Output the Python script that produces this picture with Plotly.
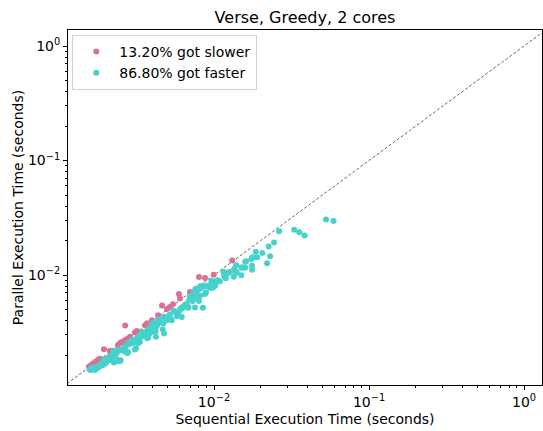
import plotly.graph_objects as go

# Sequential vs parallel run times (seconds) for each benchmark run
slower_seq = [0.00160, 0.00165, 0.00171, 0.00176, 0.00180, 0.00184, 0.00195, 0.00240,
              0.00248, 0.00255, 0.00267, 0.00275, 0.00267, 0.00287, 0.00309, 0.00318,
              0.00359, 0.00370, 0.00462, 0.00497, 0.00520, 0.00543, 0.00594, 0.00603,
              0.00800, 0.00875, 0.01310, 0.00156, 0.00213, 0.00398, 0.00435, 0.00700,
              0.00995]
slower_par = [0.00162, 0.00168, 0.00174, 0.00178, 0.00183, 0.00186, 0.00225, 0.00245,
              0.00255, 0.00260, 0.00271, 0.00277, 0.00362, 0.00290, 0.00315, 0.00325,
              0.00365, 0.00380, 0.00542, 0.00505, 0.00526, 0.00555, 0.00683, 0.00625,
              0.00960, 0.00942, 0.01340, 0.00158, 0.00218, 0.00404, 0.00445, 0.00712,
              0.01005]

faster_seq = [
    0.0528, 0.0590, 0.0329, 0.0355, 0.0384, 0.0263, 0.0244, 0.0225, 0.0230, 0.0220,
    0.0205, 0.0186, 0.0190, 0.0176, 0.0174, 0.0159, 0.0176, 0.0176, 0.0159, 0.0150,
    0.0139, 0.0135, 0.0139, 0.0150, 0.0134, 0.0120, 0.0115, 0.0116, 0.0119, 0.0124,
    0.0127, 0.0109, 0.0106, 0.0104, 0.00962, 0.0101, 0.00942, 0.00983, 0.00908, 0.00867,
    0.00887, 0.00875, 0.00838, 0.00816, 0.00812, 0.00790, 0.00790, 0.00771, 0.00759, 0.00744,
    0.00790, 0.00763, 0.00800, 0.00812, 0.00700, 0.00700, 0.00650, 0.00677, 0.00754, 0.00848,
    0.00619, 0.00603,
    0.00771, 0.00754, 0.00727, 0.00668, 0.00634, 0.00619, 0.00574, 0.00547, 0.00589, 0.00515,
    0.00533, 0.00495, 0.00471, 0.00471, 0.00453, 0.00437, 0.00426, 0.00405, 0.00422, 0.00467,
    0.00476, 0.00416, 0.00390, 0.00376, 0.00382, 0.00359, 0.00350, 0.00342, 0.00330, 0.00318,
    0.00333, 0.00309, 0.00298, 0.00376, 0.00422,
    0.00396, 0.00376, 0.00350, 0.00333, 0.00359, 0.00309, 0.00293, 0.00279, 0.00324, 0.00267,
    0.00264, 0.00279, 0.00309, 0.00254, 0.00242, 0.00236, 0.00225, 0.00211, 0.00219, 0.00203,
    0.00194, 0.00240, 0.00230, 0.00209, 0.00187, 0.00177, 0.00171, 0.00166, 0.00162, 0.00160,
    0.00189, 0.00201, 0.00213, 0.00239, 0.00246, 0.00219, 0.00230,
    # runs that land on top of their neighbours
    0.00402, 0.00381, 0.00346, 0.00338, 0.00365, 0.00305, 0.00297, 0.00283, 0.00320, 0.00271,
    0.00268, 0.00275, 0.00314, 0.00258, 0.00246, 0.00232, 0.00229, 0.00214, 0.00223, 0.00206,
    0.00197, 0.00236, 0.00226, 0.00205, 0.00184, 0.00180, 0.00168, 0.00169, 0.00192, 0.00198,
    0.00217, 0.00250, 0.00234,
    0.00640, 0.00552, 0.00595, 0.00520, 0.00527, 0.00500, 0.00476, 0.00466, 0.00458, 0.00442,
    0.00431, 0.00409, 0.00427, 0.00420, 0.00394, 0.00387, 0.00363, 0.00338, 0.00326, 0.00322,
    0.00302, 0.00371,
    0.00918, 0.00858, 0.00846, 0.00820, 0.00783, 0.00752, 0.00798, 0.00770, 0.00708, 0.00693,
    0.00657, 0.00684, 0.00625, 0.00609, 0.0105, 0.00972, 0.0102, 0.00951, 0.0117, 0.0121,
    0.0125, 0.0140, 0.0152, 0.0161, 0.0178,
    0.00158, 0.00164, 0.00222,
]
faster_par = [
    0.0305, 0.0296, 0.0249, 0.0237, 0.0222, 0.0241, 0.0192, 0.0178, 0.0146, 0.0127,
    0.0156, 0.0160, 0.0143, 0.0142, 0.0138, 0.0131, 0.0121, 0.0111, 0.0116, 0.0116,
    0.0122, 0.0113, 0.0105, 0.00996, 0.00966, 0.0102, 0.0107, 0.00986, 0.00936, 0.0105,
    0.0107, 0.00881, 0.00900, 0.00886, 0.00886, 0.00807, 0.00775, 0.00775, 0.00802, 0.00797,
    0.00706, 0.00682, 0.00802, 0.00797, 0.00775, 0.00755, 0.00740, 0.00759, 0.00752, 0.00716,
    0.00647, 0.00626, 0.00593, 0.00660, 0.00655, 0.00617, 0.00547, 0.00518, 0.00522, 0.00518,
    0.00518, 0.00504,
    0.00749, 0.00669, 0.00593, 0.00558, 0.00529, 0.00430, 0.00436, 0.00487, 0.00477, 0.00447,
    0.00404, 0.00404, 0.00427, 0.00378, 0.00391, 0.00410, 0.00378, 0.00383, 0.00354, 0.00335,
    0.00309, 0.00319, 0.00347, 0.00335, 0.00309, 0.00313, 0.00293, 0.00309, 0.00293, 0.00281,
    0.00262, 0.00271, 0.00254, 0.00284, 0.00290,
    0.00366, 0.00331, 0.00314, 0.00290, 0.00290, 0.00262, 0.00267, 0.00254, 0.00254, 0.00237,
    0.00216, 0.00212, 0.00224, 0.00221, 0.00224, 0.00212, 0.00218, 0.00192, 0.00200, 0.00187,
    0.00181, 0.00178, 0.00175, 0.00181, 0.00164, 0.00154, 0.00148, 0.00154, 0.00154, 0.00148,
    0.00162, 0.00172, 0.00181, 0.00181, 0.00177, 0.00187, 0.00209,
    # runs that land on top of their neighbours
    0.00360, 0.00336, 0.00318, 0.00295, 0.00296, 0.00258, 0.00271, 0.00250, 0.00259, 0.00241,
    0.00220, 0.00208, 0.00228, 0.00226, 0.00219, 0.00208, 0.00214, 0.00196, 0.00204, 0.00183,
    0.00177, 0.00182, 0.00172, 0.00178, 0.00167, 0.00157, 0.00151, 0.00157, 0.00165, 0.00169,
    0.00185, 0.00180, 0.00205,
    0.00535, 0.00480, 0.00483, 0.00452, 0.00410, 0.00410, 0.00433, 0.00383, 0.00396, 0.00405,
    0.00373, 0.00378, 0.00359, 0.00324, 0.00352, 0.00313, 0.00317, 0.00305, 0.00289, 0.00285,
    0.00258, 0.00280,
    0.00810, 0.00789, 0.00794, 0.00768, 0.00748, 0.00709, 0.00654, 0.00633, 0.00648, 0.00611,
    0.00553, 0.00524, 0.00512, 0.00509, 0.00895, 0.00877, 0.00815, 0.00783, 0.00976, 0.0103,
    0.0106, 0.0106, 0.0117, 0.0132, 0.0143,
    0.00150, 0.00152, 0.00190,
]

title = "Verse, Greedy, 2 cores"
x_label = "Sequential Execution Time (seconds)"
y_label = "Parallel Execution Time (seconds)"
axis_lo, axis_hi = 0.001, 2.0

major_vals = [0.01, 0.1, 1]
major_text = ["10<sup>\u22122</sup>", "10<sup>\u22121</sup>", "10<sup>0</sup>"]
minor_vals = [m * 10.0 ** e for e in (-3, -2, -1, 0) for m in range(2, 10)]

total = len(slower_seq) + len(faster_seq)
pct_slow = 100.0 * len(slower_seq) / total
pct_fast = 100.0 * len(faster_seq) / total

PINK = "#DB7093"
TEAL = "#48D1CC"
FONT = "DejaVu Sans"

fig = go.Figure()

# y = x reference line
fig.add_trace(go.Scatter(
    x=[axis_lo, axis_hi], y=[axis_lo, axis_hi], mode="lines",
    line=dict(color="black", width=0.6, dash="3px,2px"),
    showlegend=False, hoverinfo="skip",
))
fig.add_trace(go.Scatter(
    x=slower_seq, y=slower_par, mode="markers",
    marker=dict(color=PINK, size=6, line=dict(width=0)),
    name=f"{pct_slow:.2f}% got slower",
))
fig.add_trace(go.Scatter(
    x=faster_seq, y=faster_par, mode="markers",
    marker=dict(color=TEAL, size=6, line=dict(width=0)),
    name=f"{pct_fast:.2f}% got faster",
))

axis_common = dict(
    type="log",
    showgrid=False, zeroline=False,
    showline=True, linecolor="black", linewidth=1, mirror=True,
    ticks="outside", ticklen=4, tickwidth=1, tickcolor="black",
    tickmode="array", tickvals=major_vals, ticktext=major_text,
    tickfont=dict(family=FONT, size=14, color="black"),
    minor=dict(ticks="outside", ticklen=2, tickwidth=0.8, tickcolor="black",
               tickmode="array", tickvals=minor_vals),
)

fig.update_layout(
    width=543, height=431,
    margin=dict(l=68, r=1, t=30, b=46),
    paper_bgcolor="white", plot_bgcolor="white",
    font=dict(family=FONT, size=14, color="black"),
    title=dict(text=title, x=0.5, xref="paper", xanchor="center",
               y=1, yref="paper", yanchor="bottom", pad=dict(b=7),
               font=dict(family=FONT, size=16, color="black")),
    xaxis=dict(axis_common, range=[-2.942, 0.116],
               title=dict(text=x_label, standoff=5,
                          font=dict(family=FONT, size=14, color="black"))),
    yaxis=dict(axis_common, range=[-2.96, 0.14],
               title=dict(text=y_label, standoff=1,
                          font=dict(family=FONT, size=14, color="black"))),
    legend=dict(x=0.009, y=0.986, xanchor="left", yanchor="top",
                bgcolor="rgba(255,255,255,0.8)", bordercolor="#d0d0d0", borderwidth=1,
                font=dict(family=FONT, size=14, color="black"),
                itemwidth=36, tracegroupgap=0),
)

fig.write_html("out.html")
